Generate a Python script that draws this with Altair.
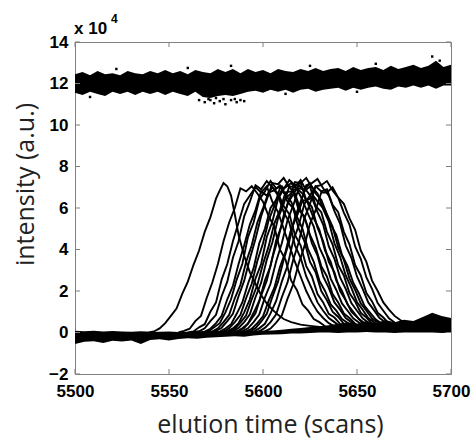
import altair as alt
import pandas as pd

# ---------------- data (intensity in units of 1e4) ----------------
X_TICKS = [5500, 5550, 5600, 5650, 5700]
Y_TICKS = [-2, 0, 2, 4, 6, 8, 10, 12, 14]

# isolated early peak
ISO_SCANS = [5500, 5520, 5539, 5542, 5545, 5548, 5551, 5554, 5557, 5560, 5563, 5566, 5569,
             5572, 5575, 5577, 5579, 5581, 5583, 5585, 5587, 5590, 5593, 5596, 5599, 5602,
             5605, 5608, 5611, 5615, 5620, 5625, 5630, 5640, 5650, 5660, 5670, 5680, 5690, 5700]
ISO_VALS = [-0.1, -0.1, 0.0, 0.05, 0.2, 0.45, 0.8, 1.15, 1.85, 2.45, 3.25, 3.95, 4.85,
            5.55, 6.45, 6.85, 7.2, 7.05, 6.6, 5.7, 4.7, 3.7, 2.9, 2.35, 1.8, 1.4,
            1.1, 0.85, 0.65, 0.5, 0.38, 0.32, 0.27, 0.22, 0.18, 0.16, 0.14, 0.12, 0.12, 0.1]

# cluster of peaks: apex scan and intensities at apex + offset
PEAK_OFFSETS = [-36, -33, -30, -27, -24, -21, -18, -15, -12, -9, -6, -3, 0, 3, 6, 9,
                12, 15, 18, 21, 24, 27, 30, 33, 36, 39, 42, 45]
PEAK_POS = [5591, 5596, 5599, 5602, 5604, 5606, 5608, 5610, 5612, 5614,
            5615, 5617, 5619, 5620, 5622, 5624, 5626, 5628, 5631, 5634]
PEAK_VALS = [
    [0.0, 0.08, 0.18, 0.55, 0.8, 1.65, 2.4, 3.3, 4.4, 5.3, 6.0, 6.95, 6.8, 7.05, 6.7, 6.3, 5.6, 5.1, 4.0, 3.5, 2.5, 2.05, 1.35, 1.05, 0.65, 0.5, 0.3, 0.2],
    [0.0, 0.05, 0.25, 0.4, 1.0, 1.45, 2.55, 3.3, 4.4, 5.3, 6.2, 6.6, 7.0, 6.75, 7.05, 6.3, 5.8, 5.0, 4.2, 3.4, 2.7, 2.0, 1.45, 1.0, 0.7, 0.45, 0.3, 0.25],
    [0.02, 0.06, 0.2, 0.55, 0.85, 1.75, 2.45, 3.6, 4.4, 5.6, 6.3, 7.1, 6.9, 7.3, 7.0, 6.6, 5.8, 5.3, 4.2, 3.6, 2.7, 2.1, 1.45, 1.05, 0.7, 0.5, 0.3, 0.2],
    [0.0, 0.04, 0.18, 0.45, 0.8, 1.6, 2.25, 3.3, 4.2, 5.2, 5.9, 6.8, 6.6, 7.0, 6.7, 6.1, 5.7, 4.7, 4.2, 3.2, 2.7, 1.85, 1.45, 0.9, 0.72, 0.42, 0.32, 0.2],
    [0.01, 0.06, 0.25, 0.45, 0.97, 1.6, 2.55, 3.3, 4.6, 5.3, 6.4, 6.8, 7.3, 6.95, 7.05, 6.3, 6.0, 5.0, 4.4, 3.4, 2.9, 2.0, 1.55, 1.0, 0.75, 0.42, 0.34, 0.22],
    [0.0, 0.05, 0.2, 0.5, 0.85, 1.65, 2.3, 3.4, 4.2, 5.3, 6.0, 6.75, 6.85, 7.1, 6.6, 6.3, 5.6, 5.0, 4.0, 3.4, 2.5, 2.0, 1.35, 1.05, 0.65, 0.47, 0.28, 0.2],
    [0.02, 0.07, 0.23, 0.55, 0.9, 1.75, 2.5, 3.55, 4.5, 5.6, 6.4, 7.2, 7.15, 7.45, 7.0, 6.7, 5.9, 5.3, 4.3, 3.7, 2.7, 2.15, 1.45, 1.1, 0.7, 0.5, 0.32, 0.22],
    [0.0, 0.04, 0.19, 0.4, 0.9, 1.45, 2.35, 3.1, 4.3, 5.0, 6.0, 6.4, 6.85, 6.55, 6.8, 5.9, 5.6, 4.7, 4.1, 3.2, 2.7, 1.85, 1.45, 0.92, 0.7, 0.42, 0.3, 0.2],
    [0.01, 0.05, 0.21, 0.5, 0.85, 1.65, 2.35, 3.45, 4.3, 5.4, 6.1, 6.95, 7.0, 7.2, 6.9, 6.4, 5.7, 5.1, 4.1, 3.5, 2.6, 2.05, 1.4, 1.05, 0.68, 0.48, 0.3, 0.2],
    [0.02, 0.06, 0.2, 0.45, 0.97, 1.6, 2.6, 3.3, 4.6, 5.35, 6.45, 6.9, 7.35, 7.1, 7.2, 6.4, 6.05, 5.05, 4.4, 3.4, 2.9, 2.0, 1.55, 1.0, 0.75, 0.45, 0.32, 0.21],
    [0.0, 0.05, 0.18, 0.48, 0.82, 1.6, 2.3, 3.3, 4.15, 5.25, 5.9, 6.75, 6.8, 6.95, 6.7, 6.2, 5.5, 4.95, 3.95, 3.4, 2.5, 2.0, 1.35, 1.0, 0.65, 0.46, 0.29, 0.2],
    [0.01, 0.06, 0.22, 0.5, 0.88, 1.7, 2.4, 3.5, 4.35, 5.5, 6.2, 7.05, 7.0, 7.35, 6.85, 6.5, 5.8, 5.2, 4.15, 3.55, 2.65, 2.1, 1.42, 1.05, 0.68, 0.48, 0.31, 0.21],
    [0.0, 0.05, 0.2, 0.42, 0.95, 1.52, 2.5, 3.2, 4.45, 5.15, 6.2, 6.65, 7.1, 6.8, 7.05, 6.1, 5.8, 4.85, 4.25, 3.25, 2.75, 1.9, 1.5, 0.95, 0.72, 0.43, 0.3, 0.2],
    [0.02, 0.07, 0.22, 0.55, 0.92, 1.78, 2.5, 3.6, 4.5, 5.65, 6.4, 7.25, 7.2, 7.45, 7.0, 6.7, 5.95, 5.35, 4.3, 3.65, 2.75, 2.15, 1.47, 1.1, 0.7, 0.5, 0.32, 0.22],
    [0.0, 0.06, 0.2, 0.5, 0.86, 1.68, 2.35, 3.42, 4.3, 5.4, 6.1, 6.95, 6.9, 7.2, 6.7, 6.4, 5.7, 5.1, 4.1, 3.5, 2.6, 2.05, 1.4, 1.05, 0.67, 0.48, 0.3, 0.2],
    [0.0, 0.05, 0.18, 0.45, 0.78, 1.52, 2.15, 3.15, 3.9, 5.0, 5.6, 6.35, 6.4, 6.55, 6.2, 5.9, 5.2, 4.7, 3.75, 3.2, 2.4, 1.9, 1.28, 0.95, 0.62, 0.44, 0.28, 0.19],
    [0.01, 0.06, 0.21, 0.52, 0.9, 1.72, 2.45, 3.5, 4.4, 5.55, 6.3, 7.1, 7.2, 7.4, 6.95, 6.6, 5.85, 5.25, 4.2, 3.6, 2.7, 2.1, 1.45, 1.08, 0.7, 0.49, 0.31, 0.21],
    [0.0, 0.05, 0.2, 0.42, 0.92, 1.52, 2.45, 3.2, 4.4, 5.15, 6.2, 6.6, 7.05, 6.8, 6.9, 6.15, 5.8, 4.85, 4.25, 3.25, 2.75, 1.9, 1.5, 0.95, 0.72, 0.43, 0.31, 0.2],
    [0.01, 0.06, 0.22, 0.5, 0.88, 1.7, 2.4, 3.48, 4.35, 5.5, 6.2, 7.05, 7.1, 7.3, 6.85, 6.5, 5.78, 5.2, 4.15, 3.55, 2.65, 2.1, 1.42, 1.05, 0.68, 0.48, 0.31, 0.21],
    [0.0, 0.05, 0.19, 0.48, 0.82, 1.62, 2.3, 3.32, 4.15, 5.25, 5.9, 6.75, 6.75, 7.0, 6.5, 6.2, 5.5, 4.95, 3.95, 3.4, 2.5, 2.0, 1.45, 1.1, 0.8, 0.6, 0.45, 0.35],
]

# baseline noise band
BASE_SCANS = [5500, 5505, 5510, 5515, 5520, 5525, 5530, 5535, 5540, 5545, 5550, 5555, 5560, 5565,
              5570, 5575, 5580, 5585, 5590, 5595, 5600, 5605, 5610, 5615, 5620, 5625, 5630, 5635,
              5640, 5645, 5650, 5655, 5660, 5665, 5670, 5675, 5680, 5685, 5690, 5695, 5700]
BASE_LOW = [-0.55, -0.45, -0.42, -0.5, -0.4, -0.43, -0.38, -0.55, -0.36, -0.33, -0.38, -0.31, -0.28, -0.3,
            -0.25, -0.23, -0.2, -0.18, -0.2, -0.14, -0.11, -0.1, -0.08, -0.05, -0.05, -0.02, 0.0, 0.0,
            -0.02, 0.0, 0.0, 0.02, 0.0, 0.0, -0.02, 0.0, 0.0, 0.0, 0.0, -0.02, 0.0]
BASE_HIGH = [0.08, 0.06, 0.08, 0.05, 0.07, 0.05, 0.04, 0.06, 0.03, 0.04, 0.05, 0.03, 0.04, 0.05,
             0.03, 0.04, 0.05, 0.04, 0.06, 0.07, 0.09, 0.1, 0.13, 0.18, 0.22, 0.27, 0.3, 0.35,
             0.42, 0.5, 0.42, 0.55, 0.45, 0.6, 0.5, 0.62, 0.55, 0.75, 0.95, 0.8, 0.7]

# dotted traces band near 12e4
TOP_SCANS = [5500, 5504, 5508, 5512, 5516, 5520, 5524, 5528, 5532, 5536,
             5540, 5544, 5548, 5552, 5556, 5560, 5564, 5568, 5572, 5576,
             5580, 5584, 5588, 5592, 5596, 5600, 5604, 5608, 5612, 5616,
             5620, 5624, 5628, 5632, 5636, 5640, 5644, 5648, 5652, 5656,
             5660, 5664, 5668, 5672, 5676, 5680, 5684, 5688, 5692, 5696, 5700]
TOP_HIGH = [12.45, 12.55, 12.4, 12.6, 12.45, 12.5, 12.4, 12.6, 12.5, 12.45,
            12.6, 12.5, 12.65, 12.5, 12.6, 12.45, 12.65, 12.55, 12.5, 12.7,
            12.55, 12.7, 12.5, 12.7, 12.55, 12.65, 12.5, 12.7, 12.6, 12.55,
            12.7, 12.6, 12.75, 12.6, 12.7, 12.75, 12.6, 12.8, 12.65, 12.75,
            12.8, 12.65, 12.85, 12.7, 12.8, 12.9, 12.75, 12.85, 13.1, 12.8, 12.9]
TOP_LOW = [11.55, 11.45, 11.6, 11.5, 11.4, 11.6, 11.5, 11.6, 11.45, 11.6,
           11.5, 11.6, 11.45, 11.6, 11.5, 11.4, 11.6, 11.35, 11.3, 11.4,
           11.45, 11.4, 11.5, 11.6, 11.65, 11.55, 11.7, 11.6, 11.7, 11.55,
           11.7, 11.75, 11.6, 11.7, 11.75, 11.8, 11.65, 11.8, 11.7, 11.8,
           11.85, 11.75, 11.7, 11.85, 11.8, 11.9, 11.8, 11.9, 11.75, 11.9, 11.9]
DOT_SCANS = [5566, 5569, 5572, 5574, 5577, 5580, 5583, 5586, 5588, 5590, 5571, 5585, 5575, 5579,
             5522, 5560, 5583, 5625, 5660, 5690, 5694, 5508, 5612, 5650]
DOT_VALS = [11.2, 11.1, 11.2, 11.05, 11.15, 11.0, 11.2, 11.1, 11.2, 11.15, 11.25, 11.25, 11.3, 11.25,
            12.7, 12.75, 12.85, 12.85, 12.95, 13.3, 13.1, 11.35, 11.5, 11.6]

# ---------------- tables ----------------
rows = []
for i, (p, vals) in enumerate(zip(PEAK_POS, PEAK_VALS)):
    for off, v in zip(PEAK_OFFSETS, vals):
        rows.append({"trace": f"p{i}", "scan": p + off, "y": v})
for s, v in zip(ISO_SCANS, ISO_VALS):
    rows.append({"trace": "iso", "scan": s, "y": v})
peaks = pd.DataFrame(rows)
base = pd.DataFrame({"scan": BASE_SCANS, "lo": BASE_LOW, "hi": BASE_HIGH})
top = pd.DataFrame({"scan": TOP_SCANS, "lo": TOP_LOW, "hi": TOP_HIGH})
dots = pd.DataFrame({"scan": DOT_SCANS, "y": DOT_VALS})
xt = pd.DataFrame({"t": X_TICKS})
yt = pd.DataFrame({"t": Y_TICKS})

W, H = 376, 332
GRAY = "#808080"
xs = alt.Scale(domain=[5500, 5700], nice=False, zero=False)
ys = alt.Scale(domain=[-2, 14], nice=False, zero=False)

xaxis = alt.Axis(values=X_TICKS, format="d", title="elution time (scans)", grid=False,
                 tickSize=0, labelPadding=9, labelFlush=False, labelOverlap=False,
                 labelFont="Liberation Sans", labelFontWeight="bold",
                 labelFontSize=17, labelColor="black", domainColor=GRAY,
                 titleFont="Open Sans", titleFontSize=25, titleFontWeight="normal", titleColor="#222",
                 titleX=195, titleY=58, titleBaseline="alphabetic", titleAlign="center")
yaxis = alt.Axis(values=Y_TICKS, format="d", title="intensity (a.u.)", grid=False,
                 tickSize=0, labelPadding=7, labelFlush=False, labelOverlap=False,
                 labelFont="Liberation Sans", labelFontWeight="bold",
                 labelFontSize=17, labelColor="black", domainColor=GRAY,
                 titleFont="Open Sans", titleFontSize=25, titleFontWeight="normal", titleColor="#222",
                 titleX=-42, titleY=142, titleBaseline="alphabetic", titleAlign="center")

band_top = alt.Chart(top).mark_area(color="black", clip=True).encode(
    x=alt.X("scan:Q", scale=xs, axis=xaxis), y=alt.Y("lo:Q", scale=ys, axis=yaxis), y2="hi:Q")
band_dots = alt.Chart(dots).mark_square(color="black", size=6, opacity=1).encode(
    x=alt.X("scan:Q", scale=xs), y=alt.Y("y:Q", scale=ys))
band_base = alt.Chart(base).mark_area(color="black", clip=True).encode(
    x=alt.X("scan:Q", scale=xs), y=alt.Y("lo:Q", scale=ys), y2="hi:Q")
lines = alt.Chart(peaks).mark_line(color="black", strokeWidth=1.9, clip=True).encode(
    x=alt.X("scan:Q", scale=xs), y=alt.Y("y:Q", scale=ys), detail="trace:N", order="scan:Q")

tick_b = alt.Chart(xt).mark_rule(color=GRAY).encode(x=alt.X("t:Q", scale=xs), y=alt.value(H), y2=alt.value(H - 5))
tick_t = alt.Chart(xt).mark_rule(color=GRAY).encode(x=alt.X("t:Q", scale=xs), y=alt.value(0), y2=alt.value(5))
tick_l = alt.Chart(yt).mark_rule(color=GRAY).encode(y=alt.Y("t:Q", scale=ys), x=alt.value(0), x2=alt.value(5))
tick_r = alt.Chart(yt).mark_rule(color=GRAY).encode(y=alt.Y("t:Q", scale=ys), x=alt.value(W - 5), x2=alt.value(W))

mult = alt.Chart(pd.DataFrame({"s": ["x 10"]})).mark_text(
    font="Liberation Sans", fontWeight="bold", fontSize=17, align="left", baseline="alphabetic", color="black"
).encode(text="s:N", x=alt.value(-1), y=alt.value(-8))
expo = alt.Chart(pd.DataFrame({"s": ["4"]})).mark_text(
    font="Liberation Sans", fontWeight="bold", fontSize=12, align="left", baseline="alphabetic", color="black"
).encode(text="s:N", x=alt.value(36), y=alt.value(-19))

chart = alt.layer(band_top, band_dots, band_base, lines, tick_b, tick_t, tick_l, tick_r, mult, expo).properties(
    width=W, height=H,
    autosize=alt.AutoSizeParams(type="none"),
    padding={"left": 75, "top": 42, "right": 22, "bottom": 67},
    background="white",
).configure_view(stroke=GRAY, strokeWidth=1)

chart.save("out.html", embed_options={"renderer": "svg", "actions": False})
